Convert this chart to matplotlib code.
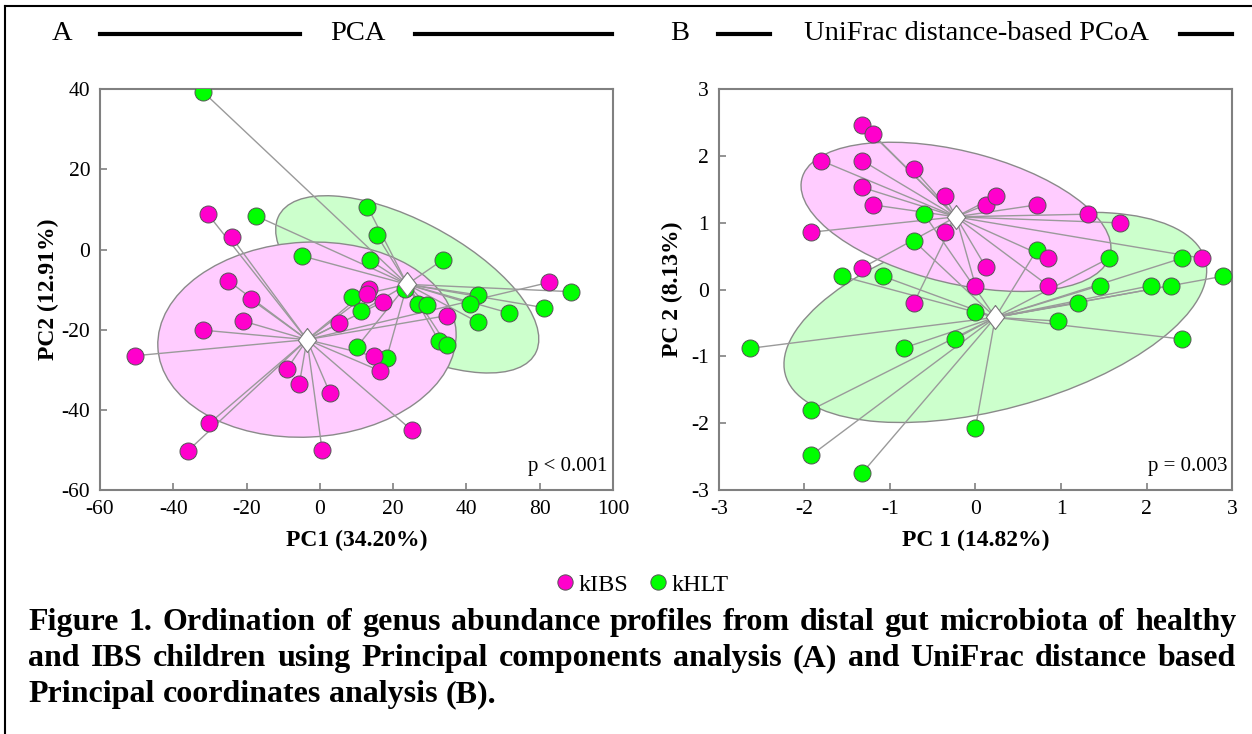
import numpy as np
import matplotlib
matplotlib.use("Agg")
import matplotlib.pyplot as plt
from matplotlib.lines import Line2D
from matplotlib.patches import Ellipse

plt.rcParams["font.family"] = ["Liberation Serif", "DejaVu Serif"]
plt.rcParams["axes.unicode_minus"] = False

# Panel A: PCA scores
pca_ibs_x = [-30.6, -24.1, -25.0, -18.8, -21.1, -32.0, -50.5, -8.9, -5.6, 2.8, -30.2,
             -36.1, 0.6, 5.3, 13.3, 12.9, 17.1, 14.8, 16.5, 25.1, 34.6, 62.5]
pca_ibs_y = [8.9, 3.1, -7.8, -12.4, -17.8, -20.1, -26.5, -29.7, -33.5, -35.9, -43.4,
             -50.3, -49.9, -18.4, -9.8, -11.2, -13.1, -26.6, -30.3, -45.1, -16.5, -8.2]
pca_hlt_x = [-31.8, -17.4, -4.8, 13.0, 15.5, 13.7, 33.5, 23.1, 8.7, 11.2, 26.7,
             29.3, 43.1, 41.1, 43.1, 51.5, 68.5, 61.2, 32.5, 34.6, 10.1, 18.2]
pca_hlt_y = [39.3, 8.4, -1.6, 10.7, 3.7, -2.7, -2.6, -9.9, -11.8, -15.4, -13.5,
             -13.9, -11.3, -13.5, -18.1, -15.8, -10.5, -14.5, -22.8, -23.7, -24.3, -27.1]

# Panel B: UniFrac PCoA scores
pcoa_ibs_x = [-1.32, -1.20, -1.80, -1.32, -0.72, -1.32, -1.20, -0.36, -1.92, -0.36, -1.32,
              -0.72, 0.12, 0.00, 0.12, 0.24, 0.72, 1.32, 1.69, 0.85, 0.85, 2.65]
pcoa_ibs_y = [2.47, 2.33, 1.93, 1.93, 1.80, 1.53, 1.27, 1.40, 0.86, 0.86, 0.33,
              -0.20, 0.34, 0.06, 1.27, 1.40, 1.27, 1.13, 1.00, 0.47, 0.06, 0.47]
pcoa_hlt_x = [-0.60, -0.72, -1.56, -1.08, 0.00, 0.72, 1.56, 2.41, 2.89, 1.45, 2.05,
              2.28, 1.20, 0.97, 2.41, -0.24, -0.83, -2.64, -1.92, 0.00, -1.92, -1.32]
pcoa_hlt_y = [1.13, 0.73, 0.20, 0.20, -0.33, 0.60, 0.47, 0.47, 0.20, 0.06, 0.06,
              0.06, -0.20, -0.47, -0.74, -0.74, -0.87, -0.88, -1.80, -2.07, -2.48, -2.74]

pca_xticks = [-60, -40, -20, 0, 20, 40, 60, 80]
pca_xlabels = ["-60", "-40", "-20", "0", "20", "40", "80", "100"]
pca_yticks = [-60, -40, -20, 0, 20, 40]
pcoa_ticks = [-3, -2, -1, 0, 1, 2, 3]

COL_IBS = "#ff00cc"
COL_HLT = "#00ff00"
FILL_IBS = "#ffccff"
FILL_HLT = "#ccffcc"
COL_LINE = "#9a9a9a"
COL_SPINE = "#808080"

TICK_SIZE = 15.5
LABEL_SIZE = 17
W, H = 1252, 734


def group_layer(x, y, color, fill, k=1.5):
    """Inertia ellipse and centroid of one group."""
    x = np.asarray(x)
    y = np.asarray(y)
    cx, cy = x.mean(), y.mean()
    vals, vecs = np.linalg.eigh(np.cov(x, y))
    order = vals.argsort()[::-1]
    vals, vecs = vals[order], vecs[:, order]
    angle = np.degrees(np.arctan2(vecs[1, 0], vecs[0, 0]))
    ell = Ellipse((cx, cy), 2 * k * np.sqrt(vals[0]), 2 * k * np.sqrt(vals[1]),
                  angle=angle, facecolor=fill, edgecolor="#8a8a8a", lw=1.0)
    return ell, (cx, cy), x, y, color


def draw_panel(ax, groups):
    layers = [group_layer(*g) for g in groups]
    for i, (ell, _, _, _, _) in enumerate(layers):
        ell.set_zorder(1 + i)
        ax.add_patch(ell)
    for ell, (cx, cy), x, y, color in layers:
        for xi, yi in zip(x, y):
            ax.plot([cx, xi], [cy, yi], color=COL_LINE, lw=1.0, zorder=4)
    for ell, (cx, cy), x, y, color in layers:
        ax.scatter(x, y, s=150, facecolor=color, edgecolor="#555555", linewidth=0.7, zorder=5)
    diamond = [(0, 1), (0.76, 0), (0, -1), (-0.76, 0), (0, 1)]
    for ell, (cx, cy), x, y, color in layers:
        ax.scatter([cx], [cy], s=300, marker=diamond, facecolor="white",
                   edgecolor="#777777", linewidth=0.8, zorder=6)


def style_axes(ax):
    for spine in ax.spines.values():
        spine.set_edgecolor(COL_SPINE)
        spine.set_linewidth(1.5)
    ax.tick_params(direction="in", length=5, width=1.2, color=COL_SPINE,
                   labelcolor="black", labelsize=TICK_SIZE, pad=7, top=False, right=False)


fig = plt.figure(figsize=(W / 100, H / 100), dpi=100)
fig.patch.set_facecolor("white")

ax_a = fig.add_axes([100 / W, 1 - 490 / H, 513 / W, 400.7 / H])
ax_b = fig.add_axes([718.7 / W, 1 - 490 / H, 513.5 / W, 400.7 / H])

# PCA
draw_panel(ax_a, [(pca_hlt_x, pca_hlt_y, COL_HLT, FILL_HLT),
                  (pca_ibs_x, pca_ibs_y, COL_IBS, FILL_IBS)])
ax_a.set_xlim(-60, 80)
ax_a.set_ylim(-60, 40)
ax_a.set_xticks(pca_xticks, pca_xlabels)
ax_a.set_yticks(pca_yticks, [str(v) for v in pca_yticks])
style_axes(ax_a)
ax_a.set_xlabel("PC1 (34.20%)", fontsize=LABEL_SIZE, fontweight="bold", labelpad=8)
ax_a.set_ylabel("PC2 (12.91%)", fontsize=LABEL_SIZE, fontweight="bold", labelpad=2)
ax_a.text(0.99, 0.035, "p < 0.001", transform=ax_a.transAxes, ha="right", va="bottom",
          fontsize=15)

# UniFrac PCoA
draw_panel(ax_b, [(pcoa_hlt_x, pcoa_hlt_y, COL_HLT, FILL_HLT),
                  (pcoa_ibs_x, pcoa_ibs_y, COL_IBS, FILL_IBS)])
ax_b.set_xlim(-3, 3)
ax_b.set_ylim(-3, 3)
ax_b.set_xticks(pcoa_ticks, [str(v) for v in pcoa_ticks])
ax_b.set_yticks(pcoa_ticks, [str(v) for v in pcoa_ticks])
style_axes(ax_b)
ax_b.set_xlabel("PC 1 (14.82%)", fontsize=LABEL_SIZE, fontweight="bold", labelpad=8)
ax_b.set_ylabel("PC 2 (8.13%)", fontsize=LABEL_SIZE, fontweight="bold", labelpad=6)
ax_b.text(0.99, 0.035, "p = 0.003", transform=ax_b.transAxes, ha="right", va="bottom",
          fontsize=15)


def fx(px):
    return px / W


def fy(py):
    return 1 - py / H


# Panel headers with rules
title_y = 34
for x0, x1 in [(100, 300), (415, 612), (718, 770), (1180, 1232)]:
    fig.add_artist(Line2D([fx(x0), fx(x1)], [fy(title_y), fy(title_y)], color="black", lw=3))
for px, label in [(62, "A"), (358, "PCA"), (680, "B"), (976, "UniFrac distance-based PCoA")]:
    fig.text(fx(px), fy(title_y), label, ha="center", va="center", fontsize=20.5)

# Figure frame (left and top)
fig.add_artist(Line2D([fx(4.5), fx(4.5)], [0, fy(6)], color="black", lw=1.5))
fig.add_artist(Line2D([fx(4.5), 1], [fy(6), fy(6)], color="black", lw=1.5))

# Legend
handles = [Line2D([], [], ls="none", marker="o", ms=11, mfc=COL_IBS, mec="#555555", mew=0.7),
           Line2D([], [], ls="none", marker="o", ms=11, mfc=COL_HLT, mec="#555555", mew=0.7)]
fig.legend(handles, ["kIBS", "kHLT"], loc="center", bbox_to_anchor=(fx(642), fy(585)),
           ncol=2, frameon=False, fontsize=17.5, handletextpad=0.15, columnspacing=0.8,
           handlelength=0.8)

# Justified caption
caption = [
    "Figure 1. Ordination of genus abundance profiles from distal gut microbiota of healthy",
    "and IBS children using Principal components analysis (A) and UniFrac distance based",
    "Principal coordinates analysis (B).",
]
cap_left, cap_right = 28, 1236
cap_base = [630, 666, 702]
cap_size = 23
renderer = fig.canvas.get_renderer()
probe = fig.text(0, 0, "a a", fontsize=cap_size, fontweight="bold")
probe_a = fig.text(0, 0, "aa", fontsize=cap_size, fontweight="bold")
normal_gap = probe.get_window_extent(renderer).width - probe_a.get_window_extent(renderer).width
probe.remove()
probe_a.remove()
for i, (line, base) in enumerate(zip(caption, cap_base)):
    words = line.split(" ")
    texts = [fig.text(0, fy(base), w, fontsize=cap_size, fontweight="bold",
                      ha="left", va="baseline") for w in words]
    widths = [t.get_window_extent(renderer).width for t in texts]
    if i < len(caption) - 1:
        gap = (cap_right - cap_left - sum(widths)) / (len(words) - 1)
    else:
        gap = normal_gap
    x = cap_left
    for t, w in zip(texts, widths):
        t.set_x(fx(x))
        x += w + gap

fig.savefig("out.png", dpi=100)
